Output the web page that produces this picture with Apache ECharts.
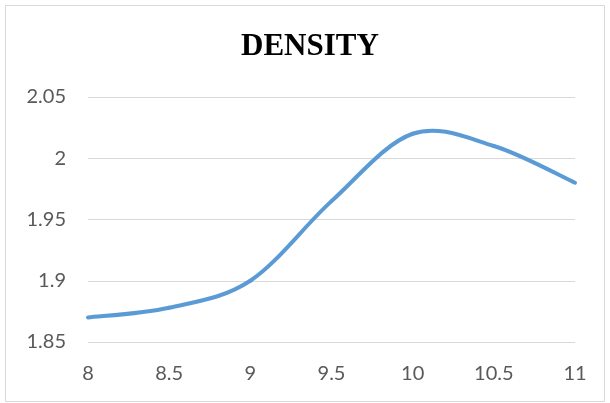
<!DOCTYPE html>
<html>
<head>
<meta charset="utf-8">
<script src="https://cdn.jsdelivr.net/npm/echarts@6/dist/echarts.min.js"></script>
<style>
  html, body { margin: 0; padding: 0; background: #fff; }
  #chart { width: 610px; height: 403px; }
</style>
</head>
<body>
<div id="chart"></div>
<script>
// Density measurements against the x variable
var xValues = [8, 8.5, 9, 9.5, 10, 10.5, 11];
var densityValues = [1.870, 1.878, 1.900, 1.965, 2.020, 2.010, 1.980];

var xTicks = { min: 8, max: 11, interval: 0.5 };
var yTicks = { min: 1.85, max: 2.05, interval: 0.05 };

var points = xValues.map(function (x, i) { return [x, densityValues[i]]; });

var labelFont = { color: '#595959', fontSize: 20, fontFamily: 'Lato, "Open Sans", sans-serif' };
var lineColor = '#5b9bd5';

// Smooth curve through all points (Catmull-Rom style Bezier segments),
// computed in pixel space from the axis scales.
function renderCurve(params, api) {
  if (params.dataIndex !== 0) return null;
  var px = points.map(function (p) { return api.coord(p); });
  var n = px.length;
  var children = [];
  for (var i = 0; i < n - 1; i++) {
    var p0 = px[Math.max(i - 1, 0)];
    var p1 = px[i];
    var p2 = px[i + 1];
    var p3 = px[Math.min(i + 2, n - 1)];
    children.push({
      type: 'bezierCurve',
      shape: {
        x1: p1[0], y1: p1[1],
        cpx1: p1[0] + (p2[0] - p0[0]) / 6,
        cpy1: p1[1] + (p2[1] - p0[1]) / 6,
        cpx2: p2[0] - (p3[0] - p1[0]) / 6,
        cpy2: p2[1] - (p3[1] - p1[1]) / 6,
        x2: p2[0], y2: p2[1]
      },
      style: { fill: null, stroke: lineColor, lineWidth: 4, lineCap: 'round', lineJoin: 'round' }
    });
  }
  return { type: 'group', children: children };
}

var chart = echarts.init(document.getElementById('chart'), null, { renderer: 'canvas' });
chart.setOption({
  animation: false,
  backgroundColor: '#ffffff',
  title: {
    text: 'DENSITY',
    left: 236,
    top: 26,
    textStyle: {
      fontFamily: '"Liberation Serif", "Times New Roman", serif',
      fontWeight: 'bold',
      fontSize: 31,
      color: '#000000'
    }
  },
  graphic: [{
    type: 'rect',
    shape: { x: 5.5, y: 5.5, width: 599, height: 396 },
    style: { fill: 'none', stroke: '#d9d9d9', lineWidth: 1 },
    silent: true
  }],
  grid: { left: 88, right: 35, top: 97, bottom: 61, containLabel: false },
  xAxis: {
    type: 'value',
    min: xTicks.min,
    max: xTicks.max,
    interval: xTicks.interval,
    axisLine: { show: false },
    axisTick: { show: false },
    splitLine: { show: false },
    axisLabel: Object.assign({ margin: 22 }, labelFont)
  },
  yAxis: {
    type: 'value',
    min: yTicks.min,
    max: yTicks.max,
    interval: yTicks.interval,
    axisLine: { show: false },
    axisTick: { show: false },
    splitLine: { show: true, lineStyle: { color: '#d9d9d9', width: 1 } },
    axisLabel: Object.assign({
      margin: 22,
      formatter: function (v) { return String(parseFloat(v.toFixed(2))); }
    }, labelFont)
  },
  series: [{
    type: 'custom',
    name: 'Density',
    data: points,
    clip: false,
    renderItem: renderCurve,
    encode: { x: 0, y: 1 }
  }]
});
</script>
</body>
</html>
